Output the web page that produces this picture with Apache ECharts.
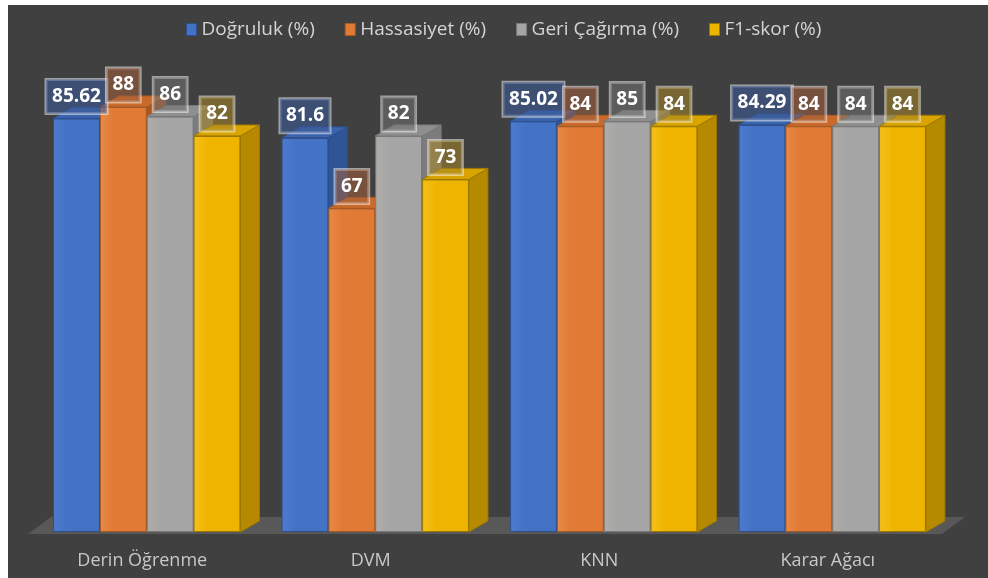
<!DOCTYPE html>
<html>
<head>
<meta charset="utf-8">
<script src="https://cdn.jsdelivr.net/npm/echarts@6/dist/echarts.min.js"></script>
<style>
  html, body { margin: 0; padding: 0; background: #ffffff; }
  #chart { position: absolute; left: 8px; top: 5px; width: 980px; height: 573px; background: #404040; }
</style>
</head>
<body>
<div id="chart"></div>
<script>
// ---- data ----
const categories = ['Derin Öğrenme', 'DVM', 'KNN', 'Karar Ağacı'];
const seriesNames = ['Doğruluk (%)', 'Hassasiyet (%)', 'Geri Çağırma (%)', 'F1-skor (%)'];
const accuracy = [85.62, 81.6, 85.02, 84.29];
const precision = [88, 67, 84, 84];
const recall = [86, 82, 85, 84];
const f1 = [82, 73, 84, 84];
const allValues = [accuracy, precision, recall, f1];

// ---- styles ----
const frontColors = ['#4472c4', '#e07a34', '#a5a5a5', '#efb400'];
const lightColors = ['#4d7cce', '#e88a48', '#b0ada8', '#f5c21a'];
const sideColors  = ['#2f5597', '#a9561f', '#7c7c7c', '#b68a00'];
const topColors   = ['#3a64ad', '#c96a2b', '#8f8f8f', '#d9a300'];
const edgeColors  = ['#2d4f8c', '#a85a24', '#7a7a7a', '#9c7800'];
const labelBg     = ['rgba(60,90,150,0.6)', 'rgba(160,95,60,0.55)', 'rgba(115,115,115,0.55)', 'rgba(165,135,40,0.55)'];

const GAP = 0.18;
const DX = 19, DY = -11;

const chart = echarts.init(document.getElementById('chart'), null, { renderer: 'canvas' });

function make3D(s) {
  return {
    name: '_3d' + s,
    type: 'custom',
    z: 1,
    silent: true,
    data: allValues[s].map((v, i) => [i, v]),
    encode: { x: 0, y: 1 },
    renderItem: function (params, api) {
      const idx = api.value(0), val = api.value(1);
      const base = api.coord([idx, 0]);
      const top = api.coord([idx, val]);
      const band = api.size([1, 0])[0];
      const bw = band * (1 - GAP) / 4;
      const xl = base[0] - band * (1 - GAP) / 2 + s * bw;
      const xr = xl + bw;
      const y0 = base[1], yt = top[1];
      return {
        type: 'group',
        children: [
          { type: 'polygon', shape: { points: [[xr, y0], [xr, yt], [xr + DX, yt + DY], [xr + DX, y0 + DY]] },
            style: { fill: sideColors[s], stroke: edgeColors[s], lineWidth: 1 } },
          { type: 'polygon', shape: { points: [[xl, yt], [xr, yt], [xr + DX, yt + DY], [xl + DX, yt + DY]] },
            style: { fill: topColors[s], stroke: edgeColors[s], lineWidth: 1 } }
        ]
      };
    }
  };
}

const floorSeries = {
  name: '_floor',
  type: 'custom',
  z: 0,
  silent: true,
  data: [[0, 0]],
  encode: { x: 0, y: 1 },
  renderItem: function (params, api) {
    const cs = params.coordSys;
    const yf = cs.y + cs.height + 2;
    const x0 = cs.x - 4.5, x1 = cs.x + cs.width - 4.5;
    return {
      type: 'polygon',
      shape: { points: [[x0, yf], [x1, yf], [x1 + 23, yf - 17], [x0 + 23, yf - 17]] },
      style: { fill: '#585858' }
    };
  }
};

const barSeries = seriesNames.map((name, s) => ({
  name: name,
  type: 'bar',
  z: 2,
  barGap: '0%',
  barCategoryGap: (GAP * 100) + '%',
  data: allValues[s],
  itemStyle: {
    color: new echarts.graphic.LinearGradient(0, 0, 1, 0, [
      { offset: 0, color: lightColors[s] },
      { offset: 0.3, color: frontColors[s] },
      { offset: 1, color: frontColors[s] }
    ]),
    borderColor: edgeColors[s],
    borderWidth: 1
  },
  label: {
    show: true,
    position: 'top',
    distance: 5,
    formatter: '{c}',
    color: '#ffffff',
    fontFamily: 'Open Sans',
    fontWeight: 'bold',
    fontSize: 19,
    lineHeight: 22,
    backgroundColor: labelBg[s],
    borderColor: 'rgba(255,255,255,0.5)',
    borderWidth: 1.5,
    padding: [6, 6]
  }
}));

chart.setOption({
  animation: false,
  backgroundColor: '#404040',
  legend: {
    left: 173,
    top: 10,
    itemWidth: 10,
    itemHeight: 12,
    itemGap: 30,
    icon: 'rect',
    textStyle: { color: '#d4d4d4', fontFamily: 'Open Sans', fontSize: 19 },
    data: seriesNames.map((n, s) => ({ name: n, itemStyle: { color: frontColors[s], borderColor: edgeColors[s], borderWidth: 1 } }))
  },
  grid: { left: 24.5, right: 41.5, top: 44, bottom: 46 },
  xAxis: {
    type: 'category',
    data: categories,
    axisLine: { show: false },
    axisTick: { show: false },
    splitLine: { show: false },
    axisLabel: { color: '#c8c8c8', fontFamily: 'Open Sans', fontSize: 18, margin: 20, padding: [0, 9, 0, 0] }
  },
  yAxis: {
    type: 'value',
    min: 0,
    max: 100,
    interval: 20,
    show: false,
    splitLine: { show: false }
  },
  series: [floorSeries, make3D(0), make3D(1), make3D(2), make3D(3)].concat(barSeries)
});
</script>
</body>
</html>
